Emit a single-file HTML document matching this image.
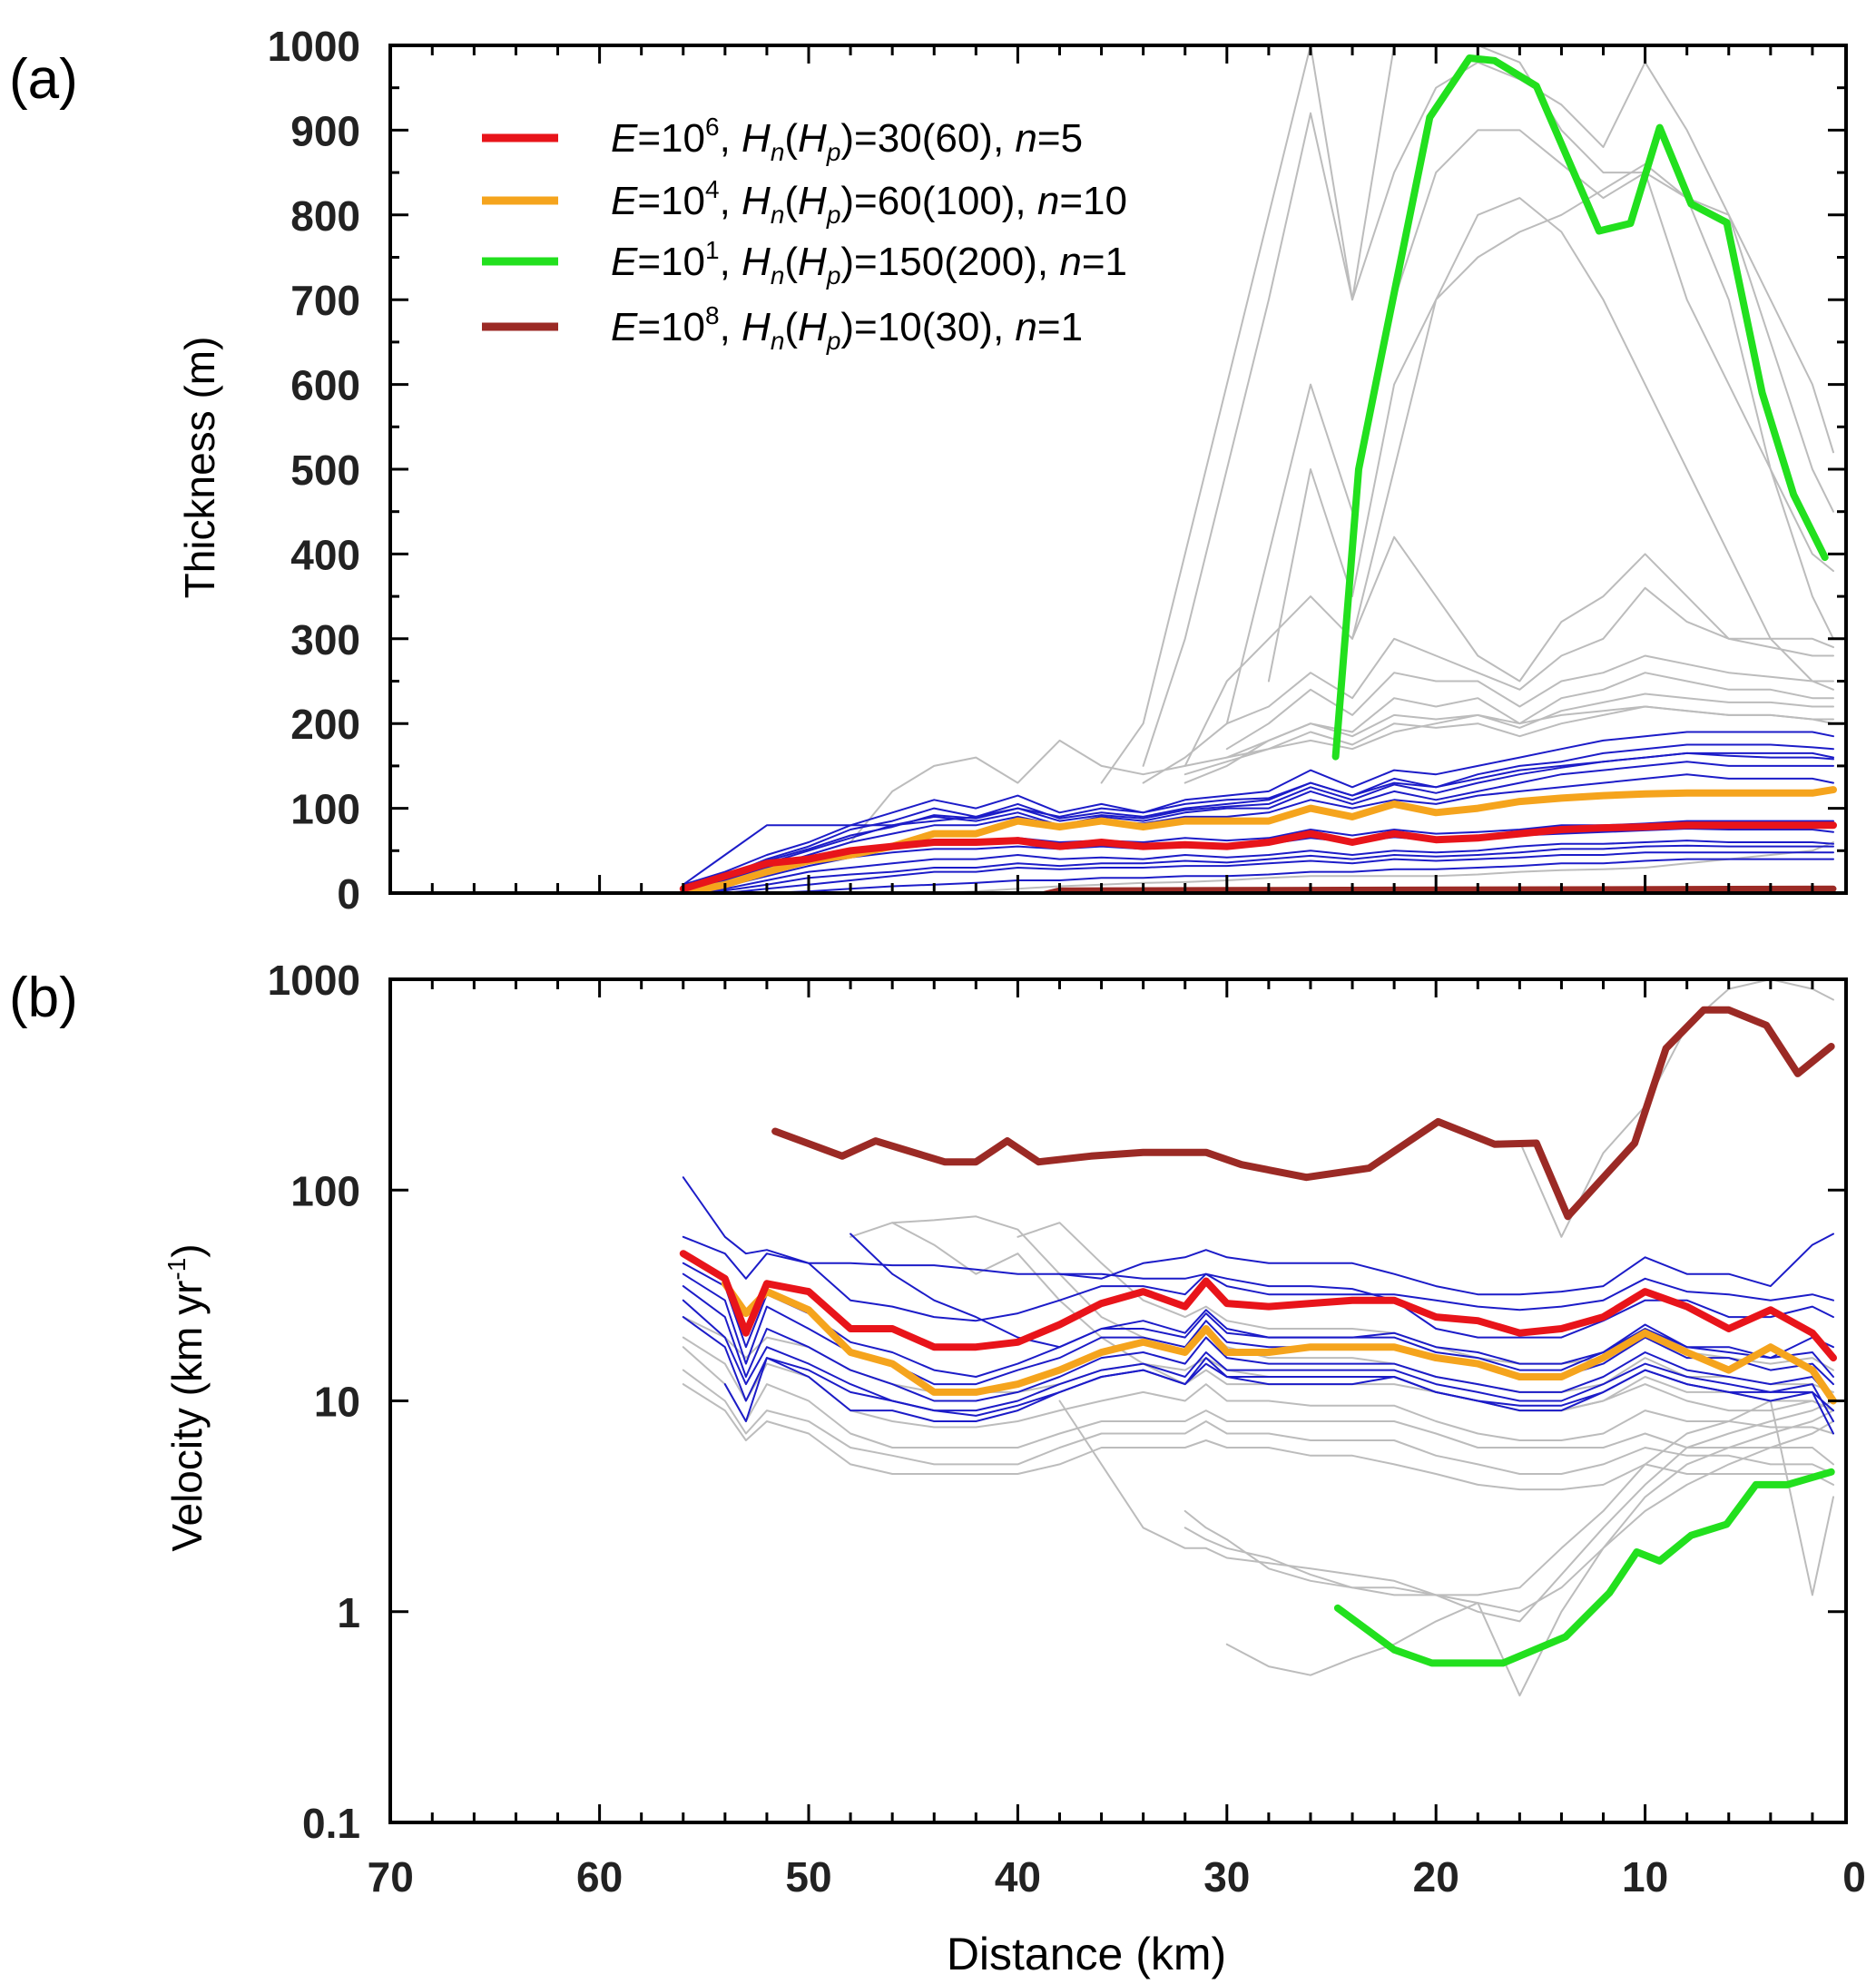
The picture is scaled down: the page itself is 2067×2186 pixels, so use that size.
<!DOCTYPE html>
<html><head><meta charset="utf-8"><style>
html,body{margin:0;padding:0;background:#fff;}
svg{display:block;}
text{font-family:"Liberation Sans",sans-serif;}
</style></head><body>
<svg id="fig" width="2067" height="2186" viewBox="0 0 2067 2186" xmlns="http://www.w3.org/2000/svg">
<defs>
<clipPath id="clipA"><rect x="430" y="50" width="1604" height="934"/></clipPath>
<clipPath id="clipB"><rect x="430" y="1079" width="1604" height="929"/></clipPath>
</defs>
<text x="10" y="108" font-size="62">(a)</text>
<text x="10" y="1120" font-size="62">(b)</text>
<text transform="translate(236,515) rotate(-90)" text-anchor="middle" font-size="46">Thickness (m)</text>
<text transform="translate(222,1540) rotate(-90)" text-anchor="middle" font-size="46">Velocity (km yr<tspan font-size="28" dy="-18">-1</tspan><tspan dy="18">)</tspan></text>
<text x="1197" y="2170" text-anchor="middle" font-size="50">Distance (km)</text>
<g id="gA" clip-path="url(#clipA)"></g>
<g id="gB" clip-path="url(#clipB)"></g>
<g id="axes"></g>
<g id="legend"></g>
</svg>
<script>
const N = null;
const distA = [56,54,52,50,48,46,44,42,40,38,36,34,32,30,28,26,24,22,20,18,16,14,12,10,8,6,4,2,1];
const redA = [5,20,35,40,50,55,60,60,62,55,60,55,57,55,60,70,60,70,63,65,70,75,77,78,80,80,80,80,80];
const orangeA = [0,10,25,38,45,55,70,70,85,78,85,78,85,85,85,100,90,105,95,100,108,112,115,117,118,118,118,118,122];
const greenDistA = [24.8,23.7,22.6,20.3,18.4,17.2,15.2,12.2,10.7,9.3,7.8,6.1,4.4,2.9,1.4];
const greenA = [161,500,635,915,985,982,952,781,790,903,813,791,590,470,396];
const brownDistA = [51.5,39,38,1];
const brownA = [-3,-3,3,5];
const blueA = [
[10,25,45,60,80,95,110,100,115,95,105,95,110,115,120,145,125,145,140,150,160,170,180,185,190,190,190,190,185],
[5,20,40,55,75,85,100,90,105,88,95,90,100,105,110,130,115,135,125,140,150,155,165,170,175,175,175,172,170],
[5,15,35,50,65,80,90,85,95,80,90,85,95,100,100,120,105,120,110,120,130,140,145,150,155,150,150,150,150],
[0,15,30,45,60,70,80,80,90,80,85,82,90,90,95,110,100,110,105,115,120,125,130,135,140,135,135,135,130],
[0,10,25,40,50,55,60,60,65,60,62,60,65,62,65,75,68,75,70,72,75,80,80,82,85,85,85,85,85],
[0,5,15,25,30,35,40,40,45,40,42,40,45,42,45,50,45,50,48,50,55,58,58,60,62,60,60,60,58],
[0,0,5,10,15,20,25,25,30,28,30,30,32,32,35,38,35,40,38,40,42,45,45,48,48,48,48,48,48],
[0,0,0,2,5,8,10,12,15,15,18,18,20,20,22,25,25,28,28,30,32,35,35,38,40,40,40,40,40],
[10,45,80,80,80,80,85,90,100,90,100,95,105,110,112,130,115,130,125,135,145,150,155,160,165,165,165,165,160],
[5,18,38,52,68,78,92,88,100,85,92,88,98,102,105,125,110,128,118,130,140,148,155,160,165,162,160,160,158],
[0,8,20,32,42,48,52,52,55,52,55,52,56,55,58,65,60,66,62,65,68,70,72,74,76,75,75,75,72],
[0,3,10,18,22,25,30,30,35,32,35,35,38,36,40,44,40,45,43,45,48,52,52,55,56,55,55,55,55]
];
const grayA = [
[N,N,N,N,N,N,N,N,N,N,130,200,400,600,800,1000,700,1000,1000,1000,980,900,850,850,700,600,500,400,380],
[N,N,N,N,N,N,N,N,N,N,N,150,300,500,700,920,700,850,950,980,960,930,880,980,900,800,650,500,450],
[N,N,N,N,N,N,N,N,N,N,N,N,N,200,400,600,450,700,850,900,900,860,820,850,820,800,700,600,520],
[N,N,N,N,N,N,N,N,N,N,N,N,150,250,300,350,300,420,350,280,250,320,350,400,350,300,300,300,290],
[N,N,N,N,N,N,N,N,N,N,N,130,160,200,220,260,230,300,280,260,240,280,300,360,320,300,290,280,280],
[N,N,N,N,N,N,N,N,N,N,N,N,130,150,180,200,190,230,220,230,200,230,240,260,250,240,240,230,230],
[N,N,N,N,60,120,150,160,130,180,150,140,150,160,170,180,170,190,200,210,200,210,215,220,215,210,210,205,200],
[N,N,N,N,N,N,0,2,5,8,10,12,13,15,18,20,20,20,20,22,25,27,28,30,35,40,45,50,60],
[N,N,N,N,N,N,N,N,N,N,N,N,N,N,N,N,300,500,700,800,820,780,700,600,500,400,300,250,240],
[N,N,N,N,N,N,N,N,N,N,N,N,N,160,180,200,185,210,205,210,195,215,225,235,230,225,225,220,220],
[N,N,N,N,N,N,N,N,N,N,N,N,140,155,170,190,175,200,195,200,185,200,210,220,215,210,210,205,205],
[N,N,N,N,N,N,N,N,N,N,N,N,N,170,200,240,210,260,250,250,220,250,260,280,270,260,255,250,250],
[N,N,N,N,N,N,N,N,N,N,N,N,N,N,250,500,350,600,700,750,780,800,830,860,820,700,500,350,300],
[N,N,N,N,N,N,N,N,N,N,N,N,N,N,N,N,N,N,N,N,N,N,N,N,N,N,N,N,N]
];
const distB = [56,54,53,52,50,48,46,44,42,40,38,36,34,32,31,30,28,26,24,22,20,18,16,14,12,10,8,6,4,2,1];
const redB = [50,38,21,36,33,22,22,18,18,19,23,29,33,28,37,29,28,29,30,30,25,24,21,22,25,33,28,22,27,21,16];
const orangeB = [N,36,26,33,27,17,15,11,11,12,14,17,19,17,22,17,17,18,18,18,16,15,13,13,16,21,17,14,18,14,10];
const greenDistB = [24.7,22,20.2,16.8,13.8,11.7,10.4,9.3,7.8,6.1,4.7,3.2,1.1];
const greenB = [1.04,0.66,0.57,0.57,0.76,1.23,1.92,1.74,2.3,2.6,4.0,4.0,4.6];
const brownDistB = [51.6,48.4,46.8,43.5,42,40.5,39,36.5,34,31,29.3,26.2,23.2,19.9,17.2,15.2,13.7,10.5,9,7.2,6,4.2,2.7,1.1];
const brownB = [190,145,171,136,136,171,136,145,151,151,132,115,127,211,165,167,75,167,470,715,715,605,357,480];
const blueB = [
[115,60,50,52,45,45,44,44,42,40,40,38,45,48,52,48,45,45,45,40,35,32,32,33,35,48,40,40,35,55,62],
[60,50,38,50,45,30,28,25,24,26,30,35,35,32,40,35,32,32,32,32,30,28,27,28,30,38,33,32,30,32,30],
[40,30,15,28,22,17,15,12,12,14,16,20,20,18,24,19,18,18,18,18,16,15,13,13,15,20,16,16,14,15,12],
[35,25,13,22,18,14,12,10,10,11,13,16,17,15,20,16,15,15,15,15,13,12,11,11,13,17,14,13,12,13,10],
[30,20,12,18,15,12,10,9,9,10,12,14,15,13,17,14,14,14,14,14,12,11,10,10,12,15,13,12,11,12,8],
[N,12,8,16,13,9,9,8,8,9,11,13,14,12,15,13,12,12,12,13,11,10,9,9,11,14,12,11,10,11,7],
[N,N,N,N,N,62,40,30,25,20,18,22,24,21,27,22,20,20,20,21,18,17,15,15,17,23,18,18,16,20,18],
[N,N,N,N,N,N,N,N,N,N,40,40,38,38,40,38,35,35,34,30,22,20,20,20,24,30,30,25,25,28,25],
[45,35,18,32,26,19,17,14,13,15,18,22,22,20,26,21,20,20,20,20,17,16,14,14,17,22,18,17,16,17,13],
[25,18,10,16,14,11,10,9,8.5,9.5,11,13,14,12,16,13,13,13,13,13,11,10,9.5,9.5,11,14,12,11,11,11,9]
];
const grayB = [
[18,12,8,12,10,7,6,6,6,6,7,8,8,8,9,8,8,8,8,8,7,6,6,6,6,7,6,6,6,6,5],
[N,N,N,N,N,60,70,55,40,50,30,20,15,12,14,12,12,12,12,12,11,10,9,9,10,12,10,9,9,10,9],
[N,N,N,N,N,N,N,N,N,N,10,5,2.5,2,2,1.8,1.7,1.6,1.5,1.4,1.2,1.1,1.0,1.3,2,3,4,5,6,7,8],
[N,N,N,N,N,N,N,N,N,N,N,N,N,N,N,0.7,0.55,0.5,0.6,0.7,0.9,1.1,0.4,1.0,2.0,3.5,5,6,7,8,9],
[N,N,N,N,N,N,N,N,N,N,N,N,N,3,2.5,2.2,1.6,1.4,1.3,1.2,1.2,1.2,1.3,2,3,5,7,8,10,1.2,3.5],
[14,10,7,9,8,6,5.5,5,5,5,6,7,7,7,8,7,7,6.5,6.5,6.5,5.5,5,4.5,4.5,5,6,5.5,5.5,5,5,4.5],
[25,20,16,20,18,14,12,11,11,11,12,14,15,14,16,14,13,13,13,13,11,10,9,9,10,13,11,11,10,10,9],
[N,N,N,N,N,N,70,72,75,65,40,25,20,18,22,18,16,16,16,15,13,12,11,11,12,16,13,13,12,12,11],
[N,N,N,N,N,N,N,N,N,N,N,N,N,N,N,N,N,N,N,N,N,N,170,60,150,250,600,900,1000,900,800],
[20,15,10,15,13,9,8,7.5,7.5,8,9,10,11,10,12,10,10,9.5,9.5,9.5,8,7,6.5,6.5,7,9,8,8,7.5,7.5,7],
[N,N,N,N,N,N,N,N,N,60,70,45,30,25,28,24,22,22,22,21,18,16,15,15,16,20,17,16,15,16,14],
[N,N,N,N,N,N,N,N,N,N,N,N,N,2.5,2.2,2,1.8,1.5,1.3,1.3,1.2,1.0,0.9,1.5,2.5,4,6,7,8,9,10],
[12,9,6.5,8,7,5,4.5,4.5,4.5,4.5,5,6,6,6,6.5,6,6,5.5,5.5,5,4.5,4,3.8,3.8,4,5,4.5,4.5,4.5,4.5,4]
];
const xTicks = [70,60,50,40,30,20,10,0];
const yTicksA = [0,100,200,300,400,500,600,700,800,900,1000];
const yTicksB = [0.1,1,10,100,1000];
const yTickLabelsB = ["0.1","1","10","100","1000"];
const legendLabels = [
 ['6','30(60)','5'],['4','60(100)','10'],['1','150(200)','1'],['8','10(30)','1']
];
const legendColors = ['#e8141a','#f5a41d','#22e01e','#9b2a25'];

const NS = 'http://www.w3.org/2000/svg';
const L = 430, R = 2034;
function xs(d){ return 2043 - 23.04*d; }
function yA(v){ return 984 - 0.934*v; }
function yB(v){ return 2008 - 232.25*(Math.log10(v)+1); }
function mk(tag, attrs, parent){ const e=document.createElementNS(NS,tag); for(const k in attrs) e.setAttribute(k,attrs[k]); parent.appendChild(e); return e; }
function path(xsArr, vals, yf){
  let d='', pen=false;
  for(let i=0;i<vals.length;i++){
    if(vals[i]===null){ pen=false; continue; }
    d += (pen?'L':'M') + xs(xsArr[i]).toFixed(1) + ' ' + yf(vals[i]).toFixed(1) + ' ';
    pen=true;
  }
  return d;
}
function line(g, xArr, vals, yf, color, w, name){
  const p = mk('path',{d:path(xArr,vals,yf),fill:'none',stroke:color,'stroke-width':w,'stroke-linejoin':'round','stroke-linecap':'round'},g);
  
  
}
const gA=document.getElementById('gA'), gB=document.getElementById('gB');
grayA.forEach((s,i)=>line(gA,distA,s,yA,'#bcbcbc',2,'gray-run-a-'+i));
blueA.forEach((s,i)=>line(gA,distA,s,yA,'#1c1cc8',2,'blue-run-a-'+i));
line(gA,brownDistA,brownA,yA,'#9b2a25',7,'brown-thickness-line');
line(gA,distA,orangeA,yA,'#f5a41d',8,'orange-thickness-line');
line(gA,distA,redA,yA,'#e8141a',8,'red-thickness-line');
line(gA,greenDistA,greenA,yA,'#22e01e',8,'green-thickness-line');
grayB.forEach((s,i)=>line(gB,distB,s,yB,'#bcbcbc',2,'gray-run-b-'+i));
blueB.forEach((s,i)=>line(gB,distB,s,yB,'#1c1cc8',2,'blue-run-b-'+i));
line(gB,distB,orangeB,yB,'#f5a41d',8,'orange-velocity-line');
line(gB,distB,redB,yB,'#e8141a',8,'red-velocity-line');
line(gB,greenDistB,greenB,yB,'#22e01e',8,'green-velocity-line');
line(gB,brownDistB,brownB,yB,'#9b2a25',8,'brown-velocity-line');

const ax=document.getElementById('axes');
function frame(top,bot,name){
  const r=mk('rect',{x:L,y:top,width:R-L,height:bot-top,fill:'none',stroke:'#000','stroke-width':4},ax);
  
  
  for(let d=70; d>=0; d-=2){
    const x=xs(d); if(x>R) continue;
    const len = d%10===0 ? 20 : 11;
    mk('line',{x1:x,y1:top,x2:x,y2:top+len,stroke:'#000','stroke-width':3},ax);
    mk('line',{x1:x,y1:bot,x2:x,y2:bot-len,stroke:'#000','stroke-width':3},ax);
  }
}
frame(50,984,'thickness-frame');
frame(1079,2008,'velocity-frame');
yTicksA.forEach(v=>{
  const y=yA(v);
  mk('line',{x1:L,y1:y,x2:L+20,y2:y,stroke:'#000','stroke-width':3},ax);
  mk('line',{x1:R,y1:y,x2:R-20,y2:y,stroke:'#000','stroke-width':3},ax);
  if(v<1000){ const y2=yA(v+50);
    mk('line',{x1:L,y1:y2,x2:L+10,y2:y2,stroke:'#000','stroke-width':3},ax);
    mk('line',{x1:R,y1:y2,x2:R-10,y2:y2,stroke:'#000','stroke-width':3},ax);}
  const t=mk('text',{x:397,y:y+17,'text-anchor':'end','font-size':46,'font-weight':'bold',fill:'#222'},ax);
  t.textContent=v;
  
  
});
yTicksB.forEach((v,i)=>{
  const y=yB(v);
  mk('line',{x1:L,y1:y,x2:L+20,y2:y,stroke:'#000','stroke-width':3},ax);
  mk('line',{x1:R,y1:y,x2:R-20,y2:y,stroke:'#000','stroke-width':3},ax);
  const t=mk('text',{x:397,y:y+17,'text-anchor':'end','font-size':46,'font-weight':'bold',fill:'#222'},ax);
  t.textContent=yTickLabelsB[i];
  
  
});
xTicks.forEach(d=>{
  const t=mk('text',{x:xs(d),y:2084,'text-anchor':'middle','font-size':46,'font-weight':'bold',fill:'#222'},ax);
  t.textContent=d;
  
  
});
const lg=document.getElementById('legend');
const lys=[152,221,288,360];
legendLabels.forEach((lb,i)=>{
  const y=lys[i];
  mk('line',{x1:531,y1:y,x2:615,y2:y,stroke:legendColors[i],'stroke-width':9},lg);
  const t=mk('text',{x:673,y:y+15,'font-size':44},lg);
  
  
  t.innerHTML='<tspan font-style="italic">E</tspan>=10<tspan font-size="28" dy="-18">'+lb[0]+'</tspan><tspan dy="18">, </tspan><tspan font-style="italic">H</tspan><tspan font-style="italic" font-size="28" dy="10">n</tspan><tspan dy="-10">(</tspan><tspan font-style="italic">H</tspan><tspan font-style="italic" font-size="28" dy="10">p</tspan><tspan dy="-10">)='+lb[1]+', </tspan><tspan font-style="italic">n</tspan>='+lb[2];
});
</script>
</body></html>
